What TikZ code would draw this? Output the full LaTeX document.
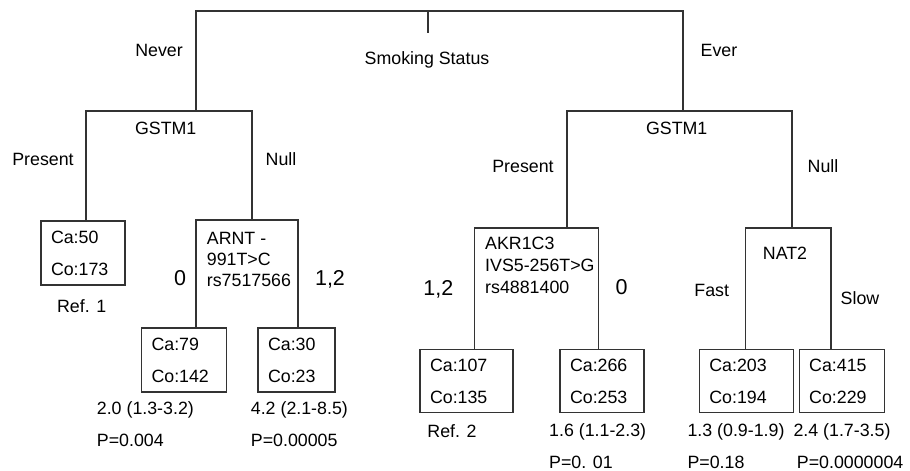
\documentclass[tikz,border=0pt]{standalone}
\usepackage{fontspec}
\setmainfont{Liberation Sans}
\begin{document}
\begin{tikzpicture}[x=1pt,y=-1pt,
  lbl/.style={inner sep=0pt, anchor=base, font=\fontsize{17.8}{20}\selectfont},
  biglbl/.style={inner sep=0pt, anchor=base, font=\fontsize{21.5}{24}\selectfont},
  lblw/.style={inner sep=0pt, anchor=base west, font=\fontsize{17.8}{20}\selectfont},
  conn/.style={line width=1.2pt, draw=black!80},
  leaf/.style={draw=black!80, line width=1.2pt, rectangle, inner xsep=10pt, inner ysep=0pt,
    align=left, text width=#1, font=\fontsize{17.8}{32}\selectfont},
  splitlbl/.style={inner sep=0pt, anchor=north west, align=left, font=\fontsize{17.8}{#1}\selectfont}
]
\useasboundingbox (0,0) rectangle (910,471);

% ---- leaf boxes
\node[leaf=64pt,  minimum height=64pt] (ca50)  at (83,253)    {Ca:50\\Co:173};
\node[leaf=65pt,  minimum height=64pt] (ca79)  at (184,360)   {Ca:79\\Co:142};
\node[leaf=57pt,  minimum height=64pt] (ca30)  at (296.5,360) {Ca:30\\Co:23};
\node[leaf=73pt,  minimum height=63pt] (ca107) at (466.5,381) {Ca:107\\Co:135};
\node[leaf=64pt,  minimum height=63pt] (ca266) at (602,381)   {Ca:266\\Co:253};
\node[leaf=74pt,  minimum height=63pt] (ca203) at (746.3,381) {Ca:203\\Co:194};
\node[leaf=65pt,  minimum height=63pt] (ca415) at (841.7,381) {Ca:415\\Co:229};

% ---- junction coordinates
\coordinate (tl) at (196,11);
\coordinate (tr) at (683,11);
\coordinate (tick) at (428,11);
\coordinate (tickend) at (428,33);
\coordinate (gl) at (196,111);
\coordinate (gr) at (683,111);
\coordinate (glL) at (86,111);
\coordinate (glR) at (252,111);
\coordinate (grL) at (567,111);
\coordinate (grR) at (792,111);
\coordinate (arntTL) at (196,220);
\coordinate (arntTR) at (298,220);
\coordinate (akrTL) at (474.3,228);
\coordinate (akrTR) at (598.3,228);
\coordinate (natTL) at (745.7,228);
\coordinate (natTR) at (831,228);

% ---- connectors
\draw[conn] (gl) -- (tl) -- (tr) -- (gr);
\draw[conn] (tick) -- (tickend);
\draw[conn] (ca50.north -| glL) -- (glL) -- (glR) -- (arntTL -| glR);
\draw[conn] (ca79.north -| arntTL) -- (arntTL) -- (arntTR) -- (ca30.north -| arntTR);
\draw[conn] (akrTL -| grL) -- (grL) -- (grR) -- (natTL -| grR);
\draw[conn] (ca107.north -| akrTL) -- (akrTL) -- (akrTR) -- (ca266.north -| akrTR);
\draw[conn] (ca203.north -| natTL) -- (natTL) -- (natTR) -- (ca415.north -| natTR);

% ---- split box texts
\node[splitlbl=21] (arnt) at (206.7,232) {ARNT -\\991T>C\\rs7517566};
\node[splitlbl=22] (akr)  at (485,237.3) {AKR1C3\\IVS5-256T>G\\rs4881400};
\node[lbl] (nat) at (785,259) {NAT2};

% ---- labels
\node[lbl] (ss)     at (427,64)    {Smoking Status};
\node[lbl] (never)  at (159,56)    {Never};
\node[lbl] (ever)   at (719,56)    {Ever};
\node[lbl] (gstmL)  at (165.7,134) {GSTM1};
\node[lbl] (presL)  at (43,165)    {Present};
\node[lbl] (nullL)  at (281,165)   {Null};
\node[lbl] (gstmR)  at (676.7,134) {GSTM1};
\node[lbl] (presR)  at (523,172)   {Present};
\node[lbl] (nullR)  at (823,172)   {Null};
\node[biglbl] (zeroL)  at (180,285.5)   {0};
\node[biglbl] (otL)    at (330,285.5)   {1,2};
\node[biglbl] (otR)    at (438.3,295.5) {1,2};
\node[biglbl] (zeroR)  at (621.7,294.5) {0};
\node[lbl] (fast)   at (711.7,296) {Fast};
\node[lbl] (slow)   at (860,304)   {Slow};
\node[lbl] (ref1)   at (81.7,312)  {Ref. 1};
\node[lbl] (ref2)   at (452,437)   {Ref. 2};

% ---- odds ratios and p-values
\node[lblw] (or79)  at (96.7,414)  {2.0 (1.3-3.2)};
\node[lblw] (p79)   at (96.7,446)  {P=0.004};
\node[lblw] (or30)  at (250.7,414) {4.2 (2.1-8.5)};
\node[lblw] (p30)   at (250.7,446) {P=0.00005};
\node[lblw] (or266) at (549,436)   {1.6 (1.1-2.3)};
\node[lblw] (p266)  at (549,468)   {P=0. 01};
\node[lblw] (or203) at (687.3,436) {1.3 (0.9-1.9)};
\node[lblw] (p203)  at (687.3,468) {P=0.18};
\node[lblw] (or415) at (793.3,436) {2.4 (1.7-3.5)};
\node[lblw] (p415)  at (796.7,468) {P=0.0000004};
\end{tikzpicture}
\end{document}
